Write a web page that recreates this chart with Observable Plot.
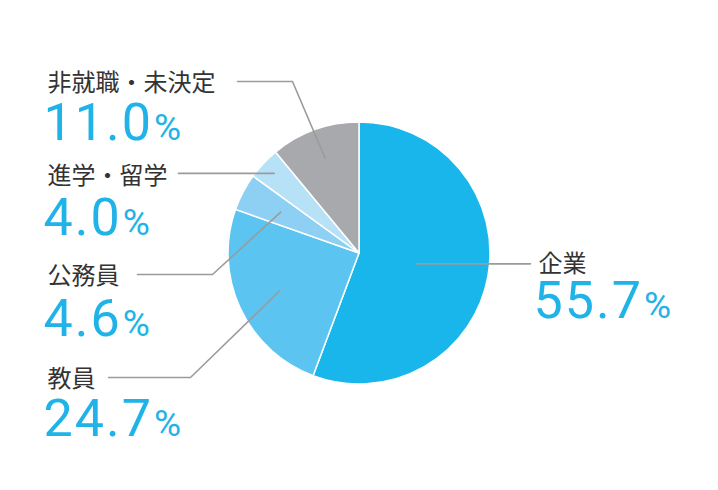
<!DOCTYPE html>
<html><head><meta charset="utf-8">
<script src="https://cdn.jsdelivr.net/npm/d3@7"></script>
<script src="https://cdn.jsdelivr.net/npm/@observablehq/plot@0.6"></script>
<style>body{margin:0;background:#fff}</style>
</head><body><div id="chart"></div>
<script>
// ---- data ----
const categories = ["企業", "教員", "公務員", "進学・留学", "非就職・未決定"];
const shares = [55.7, 24.7, 4.6, 4.0, 11.0];
const shareLabels = ["55.7", "24.7", "4.6", "4.0", "11.0"];
const colors = ["#19b6ec", "#5bc4f0", "#8dd0f3", "#b7e1f7", "#a7a9ac"];

// ---- layout ----
const W = 718, H = 490;
const cx = 359, cy = 253, R = 131;
const layout = {
  "企業":        {lx: 538, ly: 264, nx: 533, ny: 301, leaderR: 58, end: 530, elbowY: null, elbowX: null},
  "教員":        {lx: 47, ly: 379, nx: 43, ny: 419, leaderR: 88, end: 108, elbowY: 377, elbowX: 190},
  "公務員":      {lx: 47, ly: 276, nx: 43, ny: 319, leaderR: 89, end: 137, elbowY: 274, elbowX: 212},
  "進学・留学":  {lx: 47, ly: 176, nx: 43, ny: 218, leaderR: 117, end: 178, elbowY: null, elbowX: null},
  "非就職・未決定": {lx: 47, ly: 83, nx: 43, ny: 123, leaderR: 101, end: 237, elbowY: 81, elbowX: 292}
};

const rows = categories.map((c, i) => ({cat: c, share: shares[i], label: shareLabels[i], color: colors[i]}));
const arcs = d3.pie().sort(null).value(d => d.share).startAngle(0).endAngle(2 * Math.PI)(rows);

// leader line points from slice mid-angle
const leaders = [];
arcs.forEach(a => {
  const L = layout[a.data.cat];
  const mid = (a.startAngle + a.endAngle) / 2;
  const px = cx + L.leaderR * Math.sin(mid);
  const py = cy - L.leaderR * Math.cos(mid);
  leaders.push({cat: a.data.cat, x: px, y: py});
  if (L.elbowX != null) {
    leaders.push({cat: a.data.cat, x: L.elbowX, y: L.elbowY});
    leaders.push({cat: a.data.cat, x: L.end, y: L.elbowY});
  } else {
    leaders.push({cat: a.data.cat, x: L.end, y: py});
  }
});

const labelRows = rows.map(r => ({...r, x: layout[r.cat].lx, y: layout[r.cat].ly, nx: layout[r.cat].nx, ny: layout[r.cat].ny}));

function pieMark(index, scales) {
  const g = d3.create("svg:g");
  const X = scales.x, Y = scales.y;
  const arcGen = d3.arc().innerRadius(0).outerRadius(Y(cy + R) - Y(cy));
  g.attr("transform", `translate(${X(cx)},${Y(cy)})`);
  g.selectAll("path").data(arcs).join("path")
    .attr("d", arcGen)
    .attr("fill", d => d.data.color)
    .attr("stroke", "#fff")
    .attr("stroke-width", 1.5)
    .attr("stroke-linejoin", "round");
  return g.node();
}

const svg = Plot.plot({
  width: W, height: H,
  margin: 0,
  x: {domain: [0, W], range: [0, W], axis: null},
  y: {domain: [0, H], range: [0, H], axis: null},
  marks: [
    pieMark,
    Plot.line(leaders, {x: "x", y: "y", z: "cat", stroke: "#9b9b9b", strokeWidth: 1.6, curve: "linear"}),
    Plot.text(labelRows, {x: "x", y: "y", text: "cat", textAnchor: "start", fontSize: 24,
      fill: "#333", fontFamily: "'Noto Sans CJK JP', sans-serif", fontWeight: 400}),
    Plot.text(labelRows, {x: "nx", y: "ny", text: "label", textAnchor: "start", fontSize: 52,
      fill: "#1fb3e8", fontFamily: "Roboto, sans-serif", fontWeight: 400})
  ]
});

const shareSet = new Set(shareLabels);
d3.select(svg).selectAll("text").each(function() {
  const t = d3.select(this);
  if (!shareSet.has(this.textContent)) return;
  t.style("letter-spacing", "2px");
  t.append("tspan").attr("font-size", 37).attr("dx", 1).style("letter-spacing", "0px").text("%");
});

document.getElementById("chart").appendChild(svg);
</script>
</body></html>
